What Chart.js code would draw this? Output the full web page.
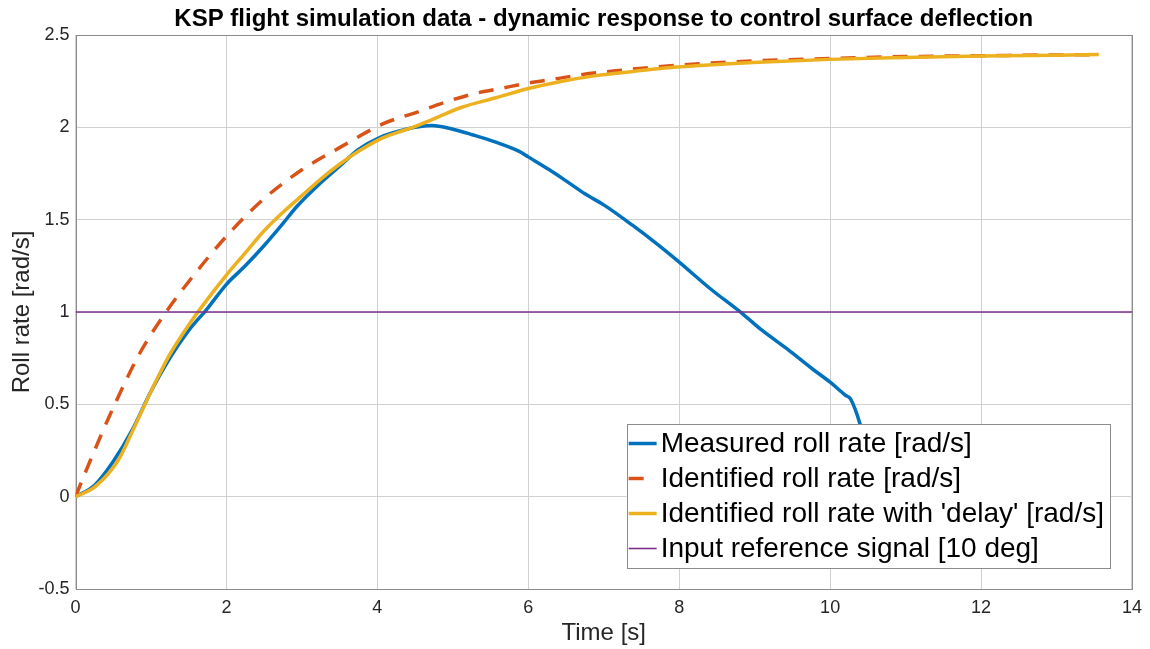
<!DOCTYPE html>
<html>
<head>
<meta charset="utf-8">
<script src="https://cdn.jsdelivr.net/npm/chart.js@4.4.1/dist/chart.umd.min.js"></script>
<style>
  html, body { margin: 0; padding: 0; background: #fff; }
  canvas { display: block; }
</style>
</head>
<body>
<canvas id="rollChart" width="1150" height="649"></canvas>
<script>
// values
var measuredTime = [0, 0.25, 0.5, 0.75, 1.0, 1.25, 1.5, 1.75, 2.0, 2.25, 2.5, 2.75, 2.93, 3.25, 3.5, 3.75, 4.03, 4.38, 4.72, 5.0, 5.26, 5.57, 5.88, 6.0, 6.28, 6.5, 6.75, 7.0, 7.38, 7.7, 8.0, 8.4, 8.84, 9.1, 9.43, 9.77, 10.0, 10.2, 10.27, 10.4, 10.55];
var measuredRate = [0, 0.06, 0.19, 0.36, 0.57, 0.75, 0.9, 1.02, 1.15, 1.25, 1.36, 1.48, 1.57, 1.7, 1.79, 1.88, 1.945, 1.99, 2.01, 1.99, 1.96, 1.92, 1.87, 1.84, 1.77, 1.71, 1.64, 1.58, 1.47, 1.37, 1.27, 1.13, 0.99, 0.9, 0.8, 0.69, 0.62, 0.55, 0.53, 0.39, 0.15];

var identTime = [0, 0.18, 0.52, 0.87, 1.2, 1.53, 2.0, 2.46, 3.0, 3.5, 4.08, 4.51, 4.89, 5.26, 5.63, 6.0, 6.4, 6.78, 7.16, 7.55, 7.93, 8.3, 8.68, 9.0, 10, 11, 12, 13, 13.56];
var identRate = [0, 0.18, 0.5, 0.79, 1.0, 1.18, 1.41, 1.6, 1.77, 1.89, 2.02, 2.08, 2.135, 2.18, 2.21, 2.24, 2.265, 2.29, 2.306, 2.322, 2.335, 2.345, 2.354, 2.36, 2.373, 2.383, 2.388, 2.392, 2.394];

var delayTime = [0, 0.26, 0.57, 0.75, 0.92, 1.0, 1.25, 1.5, 1.75, 2.0, 2.25, 2.5, 2.75, 3.0, 3.25, 3.5, 3.75, 4.03, 4.25, 4.47, 4.74, 5.13, 5.57, 6.0, 6.45, 6.9, 7.33, 7.78, 8.22, 8.66, 9.05, 10, 11, 12, 13, 13.56];
var delayRate = [0, 0.054, 0.2, 0.35, 0.5, 0.57, 0.77, 0.93, 1.07, 1.2, 1.32, 1.44, 1.54, 1.63, 1.72, 1.8, 1.87, 1.935, 1.97, 2.0, 2.045, 2.11, 2.16, 2.21, 2.25, 2.28, 2.3, 2.32, 2.333, 2.344, 2.352, 2.368, 2.378, 2.386, 2.391, 2.394];

var inputTime = [0, 14];
var inputLevel = [1, 1];

var xTickValues = [0, 2, 4, 6, 8, 10, 12, 14];
var yTickValues = [-0.5, 0, 0.5, 1, 1.5, 2, 2.5];

var seriesNames = [
    'Measured roll rate [rad/s]',
    'Identified roll rate [rad/s]',
    "Identified roll rate with 'delay' [rad/s]",
    'Input reference signal [10 deg]'
];

function pairs(xs, ys) {
    return xs.map(function (x, i) { return { x: x, y: ys[i] }; });
}

var FONT = '"Liberation Sans", Arial, Helvetica, sans-serif';
var AXIS_COLOR = '#262626';

// legend drawn inside the axes, on top of the lines (matlab style)
var boxLegend = {
    id: 'boxLegend',
    afterDatasetsDraw: function (chart) {
        var ctx = chart.ctx;
        var area = chart.chartArea;
        var sets = chart.data.datasets;
        var fontSize = 28, rowH = 35, sample = 28, gap = 4;
        ctx.save();
        ctx.font = fontSize + 'px ' + FONT;
        var textW = 0;
        sets.forEach(function (ds) { textW = Math.max(textW, ctx.measureText(ds.label).width); });
        var w = 2 + sample + gap + textW + 6;
        var h = rowH * sets.length + 4;
        var right = area.right - 22;
        var bottom = area.bottom - 21;
        var left = right - w, top = bottom - h;
        ctx.fillStyle = '#fff';
        ctx.fillRect(left, top, w, h);
        ctx.strokeStyle = '#8c8c8c';
        ctx.lineWidth = 1;
        ctx.strokeRect(Math.round(left) + 0.5, Math.round(top) + 0.5, Math.round(w), Math.round(h));
        ctx.textBaseline = 'middle';
        sets.forEach(function (ds, i) {
            var cy = top + 2 + rowH * i + rowH / 2;
            ctx.strokeStyle = ds.borderColor;
            ctx.lineWidth = ds.borderWidth;
            ctx.setLineDash([]);
            ctx.beginPath();
            var len = ds.borderDash && ds.borderDash.length ? 15 : sample;
            ctx.moveTo(left + 2, cy);
            ctx.lineTo(left + 2 + len, cy);
            ctx.stroke();
            ctx.fillStyle = '#000';
            ctx.fillText(ds.label, left + 2 + sample + gap, cy + 1);
        });
        ctx.restore();
    }
};

var axesBox = {
    id: 'axesBox',
    beforeDatasetsDraw: function (chart) {
        var a = chart.chartArea, ctx = chart.ctx;
        ctx.save();
        ctx.strokeStyle = '#8c8c8c';
        ctx.lineWidth = 1;
        ctx.strokeRect(Math.round(a.left) + 0.5, Math.round(a.top) + 0.5, Math.round(a.right - a.left), Math.round(a.bottom - a.top));
        ctx.restore();
    }
};

var ctx = document.getElementById('rollChart').getContext('2d');
var rollChart = new Chart(ctx, {
    type: 'line',
    data: {
        datasets: [{
            label: seriesNames[0],
            data: pairs(measuredTime, measuredRate),
            borderColor: '#0072BD',
            borderWidth: 3.5,
            order: 4
        }, {
            label: seriesNames[1],
            data: pairs(identTime, identRate),
            borderColor: '#D95319',
            borderWidth: 3.5,
            borderDash: [15, 11],
            order: 3
        }, {
            label: seriesNames[2],
            data: pairs(delayTime, delayRate),
            borderColor: '#EDB120',
            borderWidth: 3.5,
            order: 2
        }, {
            label: seriesNames[3],
            data: pairs(inputTime, inputLevel),
            borderColor: '#7E2F8E',
            borderWidth: 1.6,
            order: 1
        }]
    },
    options: {
        responsive: false,
        animation: false,
        events: [],
        parsing: false,
        elements: {
            point: { radius: 0 },
            line: { cubicInterpolationMode: 'monotone', fill: false, borderCapStyle: 'butt' }
        },
        layout: { padding: { left: 0, right: 15, top: 0, bottom: 0 } },
        plugins: {
            legend: { display: false },
            tooltip: { enabled: false },
            title: {
                display: true,
                fullSize: false,
                text: 'KSP flight simulation data - dynamic response to control surface deflection',
                color: '#000',
                font: { family: FONT, size: 24, weight: 'bold' },
                padding: { top: 5, bottom: 1.2 }
            }
        },
        scales: {
            x: {
                type: 'linear',
                min: 0,
                max: 14,
                afterBuildTicks: function (s) { s.ticks = xTickValues.map(function (v) { return { value: v }; }); },
                afterFit: function (s) { s.height = 60; },
                ticks: { color: AXIS_COLOR, font: { family: FONT, size: 18 }, padding: 8, maxRotation: 0,
                    callback: function (v) { return String(v); } },
                grid: { color: '#d0d0d0', lineWidth: 1, drawTicks: false },
                border: { display: false },
                title: { display: true, text: 'Time [s]', color: AXIS_COLOR, font: { family: FONT, size: 24 }, padding: { top: 0, bottom: 1 } }
            },
            y: {
                type: 'linear',
                min: -0.5,
                max: 2.5,
                afterBuildTicks: function (s) { s.ticks = yTickValues.map(function (v) { return { value: v }; }); },
                afterFit: function (s) { s.width = 75.5; },
                ticks: { color: AXIS_COLOR, font: { family: FONT, size: 18 }, padding: 6,
                    callback: function (v) { return String(v); } },
                grid: { color: '#d0d0d0', lineWidth: 1, drawTicks: false },
                border: { display: false },
                title: { display: true, text: 'Roll rate [rad/s]', color: AXIS_COLOR, font: { family: FONT, size: 24 }, padding: { top: 8, bottom: 0 } }
            }
        }
    },
    plugins: [axesBox, boxLegend]
});
</script>
</body>
</html>
